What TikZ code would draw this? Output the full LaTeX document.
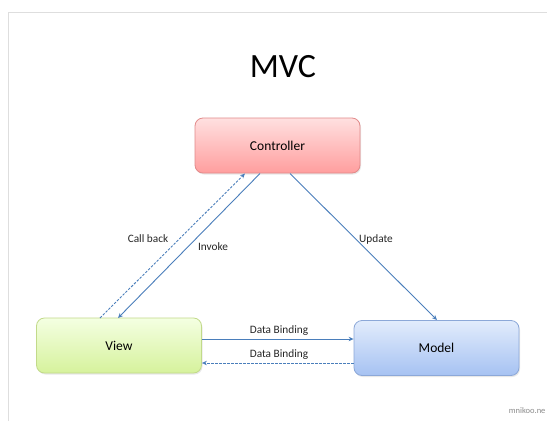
\documentclass[tikz,border=0pt]{standalone}
\usepackage{fontspec}
\setmainfont{Carlito}
\usetikzlibrary{arrows.meta,shadows}
\definecolor{linkblue}{HTML}{4A7EBB}
\definecolor{ctrtop}{HTML}{FFE0E0}
\definecolor{ctrbot}{HTML}{FF9E9E}
\definecolor{ctrline}{HTML}{E28A8A}
\definecolor{viewtop}{HTML}{F4FFE2}
\definecolor{viewbot}{HTML}{D6F29C}
\definecolor{viewline}{HTML}{C2DA8A}
\definecolor{modtop}{HTML}{E2ECFC}
\definecolor{modbot}{HTML}{A6C2F2}
\definecolor{modline}{HTML}{8CA8D8}
\tikzset{
  box/.style={rounded corners=8pt, minimum width=165pt, minimum height=55pt,
    line width=0.8pt, font=\fontsize{13.5}{15}\selectfont,
    drop shadow={opacity=0.18, shadow xshift=1pt, shadow yshift=-1.5pt}},
  link/.style={draw=linkblue, line width=0.9pt, -{Stealth[length=5pt,width=4.5pt,open]}},
  backlink/.style={link, dashed, dash pattern=on 2.5pt off 1.5pt},
  lbl/.style={font=\fontsize{11.3}{13}\selectfont, text=black!85}
}
\begin{document}
\begin{tikzpicture}[x=1pt,y=-1pt]
\useasboundingbox (0,0) rectangle (547,421);
\fill[white] (0,0) rectangle (547,421);
% page frame
\draw[black!13, line width=0.8pt] (8,421) -- (8,12) -- (547,12);
% title
\node (title) at (283,67) {\fontsize{34}{36}\selectfont MVC};
% components
\node[box, draw=ctrline, top color=ctrtop, bottom color=ctrbot] (ctr) at (277.5,145.5) {Controller};
\node[box, draw=viewline, top color=viewtop, bottom color=viewbot] (view) at (119,345.5) {View};
\node[box, draw=modline, top color=modtop, bottom color=modbot] (model) at (436.5,348) {Model};
% connectors
\coordinate (cbS) at (100,318);
\coordinate (cbE) at (245,173.5);
\coordinate (invS) at (260,173.5);
\coordinate (invE) at (118,318);
\coordinate (updS) at (290,173.5);
\coordinate (updE) at (437,320);
\draw[backlink] (cbS) -- (cbE);
\draw[link] (invS) -- (invE);
\draw[link] (updS) -- (updE);
\draw[link] (view.east |- 0,339) -- (model.west |- 0,339);
\draw[backlink] (model.west |- 0,363) -- (view.east |- 0,363);
% labels
\node[lbl] (lcb) at (148,239) {Call back};
\node[lbl] (linv) at (213,247) {Invoke};
\node[lbl] (lupd) at (376,239) {Update};
\node[lbl] (ldb1) at (279,331) {Data Binding};
\node[lbl] (ldb2) at (279,355) {Data Binding};
% watermark
\node[anchor=east, text=black!45, font=\fontsize{8.5}{9}\selectfont] (wm) at (549,411) {mnikoo.ne};
\end{tikzpicture}
\end{document}
